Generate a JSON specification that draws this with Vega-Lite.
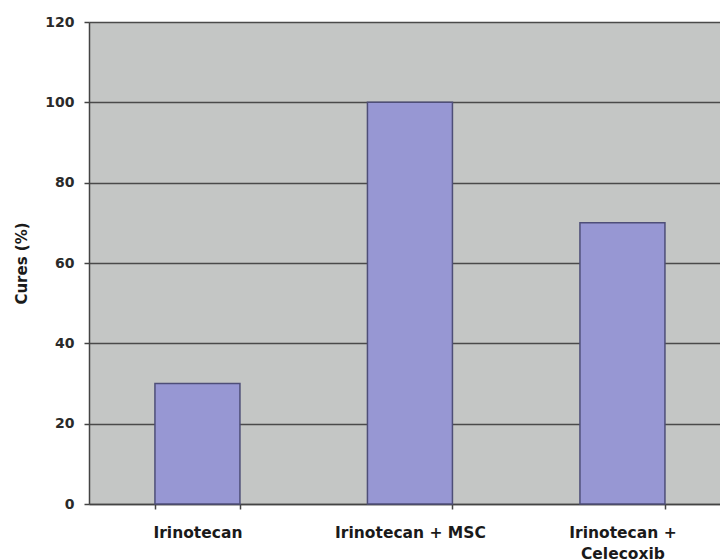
{
  "$schema": "https://vega.github.io/schema/vega-lite/v6.json",
  "width": 631,
  "height": 482,
  "autosize": {"type": "none"},
  "padding": {"left": 89, "top": 22, "right": 0, "bottom": 56},
  "background": "white",
  "view": {"fill": "#c4c6c5", "stroke": null},
  "data": {
    "values": [
      {"treatment": "Irinotecan", "cures": 30},
      {"treatment": "Irinotecan + MSC", "cures": 100},
      {"treatment": "Irinotecan + Celecoxib", "cures": 70}
    ]
  },
  "mark": {"type": "bar", "fill": "#9797d3", "stroke": "#4e4e78", "strokeWidth": 1.5},
  "encoding": {
    "x": {
      "field": "treatment",
      "type": "nominal",
      "sort": null,
      "scale": {"paddingInner": 0.6, "paddingOuter": 0.2847, "align": 0.545},
      "axis": {
        "title": null,
        "labelAngle": 0,
        "labelFont": "DejaVu Sans",
        "labelFontWeight": "bold",
        "labelFontSize": 15.5,
        "labelColor": "#1a1a1a",
        "labelPadding": 16,
        "labelLineHeight": 21,
        "labelBaseline": "top",
        "labelExpr": "datum.label == 'Irinotecan + Celecoxib' ? ['Irinotecan +', 'Celecoxib'] : datum.label",
        "tickBand": "extent",
        "ticks": true,
        "tickSize": 5,
        "tickColor": "#444444",
        "tickWidth": 1.5,
        "domainColor": "#444444",
        "domainWidth": 1.5,
        "grid": false
      }
    },
    "y": {
      "field": "cures",
      "type": "quantitative",
      "scale": {"domain": [0, 120], "nice": false},
      "axis": {
        "title": "Cures (%)",
        "titleFont": "DejaVu Sans",
        "titleFontWeight": "bold",
        "titleFontSize": 15,
        "titleColor": "#1a1a1a",
        "titlePadding": 15,
        "values": [0, 20, 40, 60, 80, 100, 120],
        "labelFont": "DejaVu Sans",
        "labelFontWeight": "bold",
        "labelFontSize": 14,
        "labelColor": "#2a2a2a",
        "labelPadding": 10,
        "tickSize": 5,
        "tickColor": "#444444",
        "tickWidth": 1.5,
        "domainColor": "#444444",
        "domainWidth": 1.5,
        "grid": true,
        "gridColor": "#4a4a4a",
        "gridWidth": 1.5,
        "gridOpacity": 1
      }
    }
  }
}
